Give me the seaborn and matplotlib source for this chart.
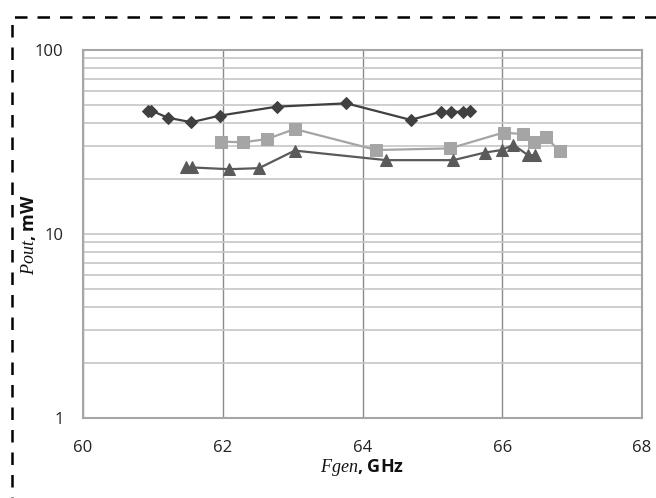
import matplotlib
matplotlib.use('Agg')
import matplotlib.pyplot as plt
import seaborn as sns
import pandas as pd
from matplotlib.patches import Rectangle
from matplotlib.ticker import FixedLocator, NullFormatter, FixedFormatter

# Данные (частота генерации, ГГц / выходная мощность, мВт)
f_diamond = [60.93, 60.98, 61.21, 61.55, 61.96, 62.77, 63.77, 64.69, 65.12, 65.27, 65.44, 65.54]
p_diamond = [46.8, 46.8, 42.9, 40.5, 44.0, 49.2, 51.3, 41.7, 46.2, 46.2, 46.2, 46.8]

f_square = [61.97, 62.29, 62.63, 63.03, 64.20, 65.25, 66.02, 66.29, 66.45, 66.62, 66.82]
p_square = [31.8, 31.5, 32.8, 37.2, 28.6, 29.2, 35.6, 34.9, 31.8, 33.8, 28.2]

f_triangle = [61.48, 61.56, 62.09, 62.52, 63.03, 64.34, 65.30, 65.75, 65.99, 66.16, 66.37, 66.47]
p_triangle = [23.0, 23.0, 22.5, 22.8, 28.4, 25.2, 25.2, 27.7, 28.6, 30.5, 26.8, 26.8]

x_ticks = [60, 62, 64, 66, 68]
y_ticks = [1, 10, 100]
y_tick_labels = ['1', '10', '100']

sns.set_style('white')
plt.rcParams['font.family'] = ['Open Sans', 'DejaVu Sans']
plt.rcParams['mathtext.fontset'] = 'custom'
plt.rcParams['mathtext.it'] = 'Liberation Serif:italic'
plt.rcParams['mathtext.rm'] = 'Liberation Serif'

fig = plt.figure(figsize=(6.56, 4.98), dpi=100)
ax = fig.add_axes([83 / 656, 1 - 418 / 498, (642 - 83) / 656, (418 - 50) / 498])

# Сетка
ax.set_yscale('log')
ax.set_xlim(60, 68)
ax.set_ylim(1, 100)
minor = [m * d for d in (1, 10) for m in range(2, 10)]
ax.yaxis.set_major_locator(FixedLocator(y_ticks))
ax.yaxis.set_major_formatter(FixedFormatter(y_tick_labels))
ax.yaxis.set_minor_locator(FixedLocator(minor))
ax.yaxis.set_minor_formatter(NullFormatter())
ax.set_xticks(x_ticks)
ax.grid(True, axis='y', which='both', color='#c6c6c6', lw=1.2)
ax.grid(True, axis='x', which='major', color='#8a8a8a', lw=1.0)
ax.set_axisbelow(True)
for s in ax.spines.values():
    s.set_color('#a6a6a6')
    s.set_linewidth(1.5)
ax.tick_params(axis='both', which='both', length=0, labelsize=12, colors='#222222')
ax.tick_params(axis='x', pad=16)
ax.tick_params(axis='y', pad=14)

series = [
    (f_diamond, p_diamond, 'D', '#404040', 6.5),
    (f_square, p_square, 's', '#a5a5a5', 8.5),
    (f_triangle, p_triangle, '^', '#5a5a5a', 8.5),
]
for fx, py, mk, col, ms in series:
    df = pd.DataFrame({'f': fx, 'p': py})
    sns.lineplot(data=df, x='f', y='p', ax=ax, color=col, lw=1.6, marker=mk,
                 markersize=ms, markeredgecolor=col, estimator=None, sort=False)

# Подписи осей: курсив с засечками (mathtext) + полужирный текст
ax.set_xlabel(r'$\mathit{Fgen}$, GHz', fontsize=13, fontweight='bold', color='#111111')
ax.set_ylabel(r'$\mathit{Pout}$, mW', fontsize=13, fontweight='bold', color='#111111')
ax.xaxis.set_label_coords(0.5, -0.105)
ax.yaxis.set_label_coords(-0.08, 0.5)

# Пунктирная рамка
fig.patches.append(Rectangle((12 / 656, -0.1), 1.2, 1.1 - 17 / 498,
                             transform=fig.transFigure, fill=False, ec='black',
                             lw=1.8, ls=(0, (5, 4)), clip_on=False))

fig.savefig('out.png', dpi=100)
